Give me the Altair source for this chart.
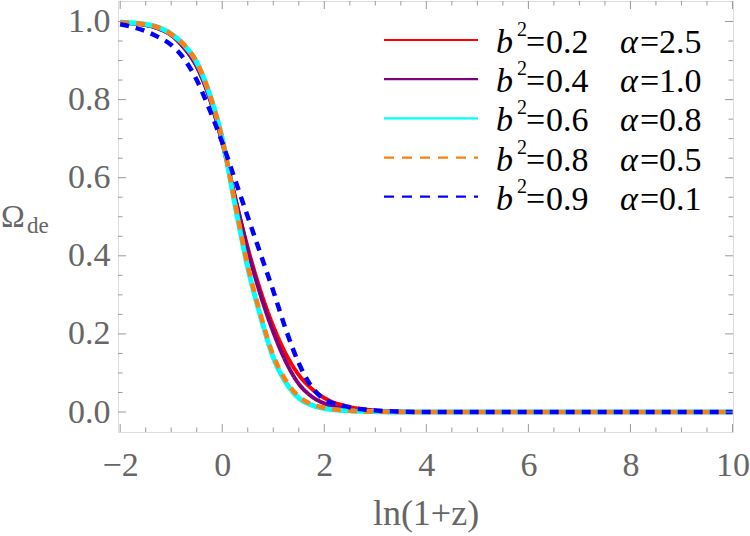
import altair as alt
import pandas as pd

# ---- data ----
xs = [-2, -1.5, -1.25, -1, -0.75, -0.5, -0.25, 0, 0.25, 0.5, 0.75, 1, 1.25, 1.5, 1.75, 2, 2.5, 3, 3.5, 4, 5, 10]
red = [0.997, 0.991, 0.982, 0.965, 0.933, 0.885, 0.805, 0.69, 0.55, 0.42, 0.31, 0.22, 0.148, 0.095, 0.06, 0.036, 0.013, 0.004, 0.001, 0.0, 0.0, 0.0]
purple = [0.997, 0.991, 0.982, 0.965, 0.933, 0.885, 0.805, 0.69, 0.55, 0.415, 0.30, 0.205, 0.128, 0.072, 0.04, 0.022, 0.007, 0.002, 0.0005, 0.0, 0.0, 0.0]
cyan = [0.998, 0.993, 0.985, 0.968, 0.940, 0.895, 0.815, 0.70, 0.53, 0.37, 0.245, 0.14, 0.075, 0.036, 0.018, 0.009, 0.003, 0.001, 0.0, 0.0, 0.0, 0.0]
orange = [0.998, 0.993, 0.985, 0.968, 0.941, 0.896, 0.815, 0.70, 0.535, 0.375, 0.25, 0.145, 0.08, 0.04, 0.02, 0.011, 0.003, 0.001, 0.0, 0.0, 0.0, 0.0]
blue = [0.993, 0.975, 0.96, 0.94, 0.905, 0.85, 0.775, 0.69, 0.595, 0.50, 0.405, 0.31, 0.21, 0.125, 0.065, 0.033, 0.012, 0.004, 0.001, 0.0, 0.0, 0.0]

b2_values = [0.2, 0.4, 0.6, 0.8, 0.9]
alpha_values = [2.5, 1.0, 0.8, 0.5, 0.1]
series_colors = ["#ff0000", "#800080", "#00ffff", "#ff7f0e", "#0000ff"]
series_dashed = [False, False, False, True, True]
series_width = [4, 4, 5, 4.5, 4.5]
curves = [red, purple, cyan, orange, blue]

x_major = [-2, 0, 2, 4, 6, 8, 10]
x_minor = [-1.5, -1, -0.5, 0.5, 1, 1.5, 2.5, 3, 3.5, 4.5, 5, 5.5, 6.5, 7, 7.5, 8.5, 9, 9.5]
y_major = [0.0, 0.2, 0.4, 0.6, 0.8, 1.0]
y_minor = [0.05, 0.1, 0.15, 0.25, 0.3, 0.35, 0.45, 0.5, 0.55, 0.65, 0.7, 0.75, 0.85, 0.9, 0.95]

# ---- tables ----
rows = []
for i, c in enumerate(curves):
    for x, v in zip(xs, c):
        rows.append({"s": i, "x": x, "v": v})
df = pd.DataFrame(rows)

leg = pd.DataFrame({
    "row": list(range(5)),
    "b": ["b"] * 5,
    "sup": ["2"] * 5,
    "eq": ["="] * 5,
    "n1": ["%.1f" % b for b in b2_values],
    "a": ["\u03b1"] * 5,
    "n2": ["%.1f" % a for a in alpha_values],
})

W, H = 615, 431
FONT = "Liberation Serif, Times New Roman, serif"
GRAY = "#666666"
FRAME = "#9a9a9a"

xscale = alt.Scale(domain=[-2.043, 10.01], nice=False, zero=False)
yscale = alt.Scale(domain=[-0.0512, 1.0525], nice=False, zero=False)

X = alt.X("x:Q", scale=xscale,
          axis=alt.Axis(values=x_major, format="d", title=None, ticks=False, domain=False,
                        grid=False, labelFontSize=34, labelColor=GRAY, labelFont=FONT,
                        labelPadding=16, labelFlush=False, labelOverlap=False))
Y = alt.Y("v:Q", scale=yscale,
          axis=alt.Axis(values=y_major, format=".1f", title=None, ticks=False, domain=False,
                        grid=False, labelFontSize=34, labelColor=GRAY, labelFont=FONT,
                        labelPadding=8, labelFlush=False, labelOverlap=False))

layers = []
for i in range(5):
    m = alt.Chart(df).transform_filter(alt.datum.s == i).mark_line(
        interpolate="monotone", color=series_colors[i], strokeWidth=series_width[i],
        strokeDash=[9, 7] if series_dashed[i] else [1, 0], clip=True
    ).encode(x=X, y=Y)
    layers.append(m)

# inward ticks on all four sides
xt = pd.DataFrame({"x": x_major + x_minor, "len": [8] * len(x_major) + [4.5] * len(x_minor)})
yt = pd.DataFrame({"v": y_major + y_minor, "len": [8] * len(y_major) + [4.5] * len(y_minor)})
for L in [8, 4.5]:
    xd = xt[xt["len"] == L]
    yd = yt[yt["len"] == L]
    layers.append(alt.Chart(xd).mark_rule(color=FRAME, strokeWidth=1).encode(
        x=X, y=alt.value(H), y2=alt.value(H - L)))
    layers.append(alt.Chart(xd).mark_rule(color=FRAME, strokeWidth=1).encode(
        x=X, y=alt.value(0), y2=alt.value(L)))
    layers.append(alt.Chart(yd).mark_rule(color=FRAME, strokeWidth=1).encode(
        y=Y, x=alt.value(0), x2=alt.value(L)))
    layers.append(alt.Chart(yd).mark_rule(color=FRAME, strokeWidth=1).encode(
        y=Y, x=alt.value(W), x2=alt.value(W - L)))

# axis titles
layers.append(alt.Chart(pd.DataFrame({"t": ["ln(1+z)"]})).mark_text(
    font=FONT, fontSize=36, color=GRAY, align="center", baseline="alphabetic"
).encode(text="t:N", x=alt.value(308), y=alt.value(524)))
layers.append(alt.Chart(pd.DataFrame({"t": ["\u03a9"]})).mark_text(
    font=FONT, fontSize=32, color=GRAY, align="left", baseline="alphabetic"
).encode(text="t:N", x=alt.value(-117), y=alt.value(226)))
layers.append(alt.Chart(pd.DataFrame({"t": ["de"]})).mark_text(
    font=FONT, fontSize=23, color=GRAY, align="left", baseline="alphabetic"
).encode(text="t:N", x=alt.value(-91), y=alt.value(232)))

data_layer = alt.layer(*layers)

# ---- legend ----
LY = alt.Y("row:Q", scale=alt.Scale(domain=[0, 4], range=[39, 195.7]), axis=None)
leg_layers = []
for i in range(5):
    leg_layers.append(alt.Chart(leg).transform_filter(alt.datum.row == i).mark_rule(
        color=series_colors[i], strokeWidth=2.2,
        strokeDash=[10, 8] if series_dashed[i] else [1, 0]
    ).encode(y=LY, x=alt.value(266), x2=alt.value(360)))

def ltext(field, x, size, italic=False, dy=13):
    return alt.Chart(leg).mark_text(
        font=FONT, fontSize=size, color="black", align="left", baseline="alphabetic",
        fontStyle="italic" if italic else "normal", dy=dy
    ).encode(text=f"{field}:N", y=LY, x=alt.value(x))

leg_layers += [
    ltext("b", 378, 34, italic=True),
    ltext("sup", 399, 20, dy=-4),
    ltext("eq", 408, 34),
    ltext("n1", 428, 34),
    ltext("a", 502, 34, italic=True),
    ltext("eq", 522, 34),
    ltext("n2", 541, 34),
]
legend_layer = alt.layer(*leg_layers)

chart = alt.layer(data_layer, legend_layer).resolve_scale(
    x="independent", y="independent"
).properties(
    width=W, height=H,
    padding={"left": 118, "top": 1, "right": 17, "bottom": 104},
    autosize=alt.AutoSizeParams(type="none"),
).configure_view(stroke=FRAME, strokeWidth=1.3).configure_axis(
    labelFont=FONT
).configure_text(font=FONT).configure(background="white")

chart.save("out.html", embed_options={"renderer": "svg", "actions": False})
